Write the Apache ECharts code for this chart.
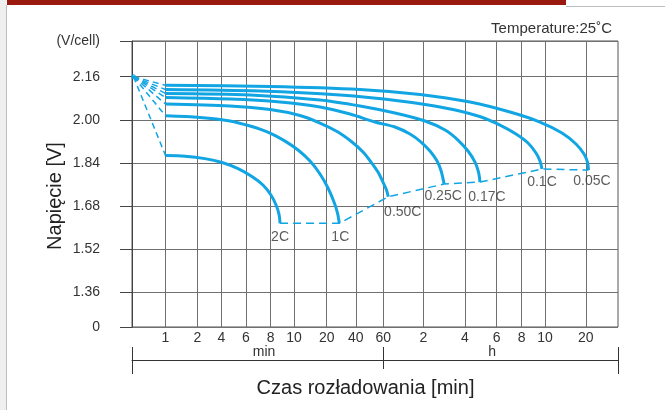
<!DOCTYPE html>
<html><head><meta charset="utf-8">
<script src="https://cdn.jsdelivr.net/npm/echarts@6/dist/echarts.min.js"></script>
<style>html,body{margin:0;padding:0;background:#fff;}#c{width:665px;height:410px;}</style>
</head><body><div id="c"></div>
<script>
// ===== DATA =====
const xTickMinutes = [1, 2, 4, 6, 8, 10, 20, 40, 60, 120, 240, 360, 480, 600, 1200];
const xTickLabels  = ['1','2','4','6','8','10','20','40','60','2','4','6','8','10','20'];
const xUnitLabels  = ['min', 'h'];
const yTickVolts   = [1.36, 1.52, 1.68, 1.84, 2.00, 2.16];
const yTickLabels  = ['1.36','1.52','1.68','1.84','2.00','2.16'];
const yBottomLabel = '0';
const yUnitLabel   = '(V/cell)';
const curveNames   = ['2C', '1C', '0.50C', '0.25C', '0.17C', '0.1C', '0.05C'];
const startPoint   = [0.5, 2.16];
// [minutes, volts per cell]
const curve2C   = [[1,1.8675],[1.525,1.865],[2.483,1.856],[4.033,1.8415],[5.26,1.819],[6.43,1.7895],[7.31,1.758],[8.02,1.721],[8.42,1.684],[8.66,1.650],[8.75,1.616]];
const curve1C   = [[1,2.015],[2.15,2.009],[4.6,1.996],[6.29,1.977],[7.94,1.951],[9.18,1.921],[10.9,1.888],[14.04,1.847],[17.35,1.799],[20.63,1.747],[23.8,1.695],[25.87,1.654],[27.0,1.616]];
const curve050C = [[1,2.0587],[4.6,2.0512],[7.94,2.038],[11.35,2.016],[17.35,1.988],[26.17,1.9547],[36.53,1.9176],[44.48,1.8805],[50.06,1.8433],[55.49,1.806],[59.7,1.769],[63.4,1.7394],[65.4,1.7145]];
const curve025C = [[1,2.0828],[4.6,2.0772],[8.74,2.0661],[17.35,2.0475],[34.85,2.0215],[53.1,1.9918],[73.4,1.9733],[95.3,1.9473],[115.4,1.9176],[134.1,1.8842],[150.9,1.847],[161.4,1.81],[169.6,1.7617]];
const curve017C = [[1,2.0976],[6.29,2.0921],[17.35,2.0735],[42.56,2.0512],[73.4,2.0252],[123.4,1.9955],[172.4,1.9621],[213.5,1.925],[249.4,1.8842],[272.7,1.8433],[285.3,1.8062],[290.7,1.7691]];
const curve01C  = [[1,2.1125],[7.06,2.1069],[27.46,2.0921],[80.1,2.0698],[172.4,2.0438],[283.4,2.0141],[373.9,1.9807],[449.5,1.9473],[509.9,1.9139],[550.5,1.8768],[571.9,1.847],[582.9,1.8174]];
const curve005C = [[1,2.1281],[7.94,2.1236],[42.56,2.1125],[113.3,2.0939],[255.8,2.0661],[419.5,2.029],[571.9,1.9918],[801,1.951],[1016,1.9102],[1164,1.873],[1235,1.8433],[1256,1.8136]];
const curves = [curve2C, curve1C, curve050C, curve025C, curve017C, curve01C, curve005C];

// ===== LAYOUT / STYLE =====
// the original drawing uses an irregular (hand-spaced) time scale: axis units along x for each tick
const X_STOPS = [33.5, 65.5, 89.5, 114, 138.7, 162, 194.7, 223.8, 251.3, 291.3, 333, 364.7, 389.7, 413, 453.8];
const X_MAX = 486;
const Y_MIN = 1.2312, Y_MAX = 2.2925;
const UNIT_LABEL_AT = [7.4, 340]; // minutes where "min" and "h" sit
const LABEL_OFFSETS = [[0,13.7],[1,13.7],[14.5,15.3],[-1,12],[7,14.3],[0,12.2],[3.4,10.5]];
const BLUE = '#12a5e3';
const GRID_C = '#707070';
const TXT = '#333';
const FONT = 'Liberation Sans, Arial, sans-serif';

function xPos(m) {
  const lt = xTickMinutes.map(Math.log);
  const L = Math.log(m);
  let i;
  if (L <= lt[0]) i = 0;
  else if (L >= lt[lt.length - 1]) i = lt.length - 2;
  else { i = 0; while (L > lt[i + 1]) i++; }
  return X_STOPS[i] + (L - lt[i]) / (lt[i + 1] - lt[i]) * (X_STOPS[i + 1] - X_STOPS[i]);
}
const toXY = p => [xPos(p[0]), p[1]];
function near(a, b) { return Math.abs(a - b) < 1e-3; }

const xTickPos = xTickMinutes.map(xPos);
const series = [];

curves.forEach((c, k) => {
  const pts = c.map(toXY);
  series.push({ type: 'line', name: curveNames[k], data: pts, smooth: 0.3, symbol: 'none',
    lineStyle: { color: BLUE, width: 3 }, z: 3, silent: true, animation: false });
  series.push({ type: 'line', data: [toXY(startPoint), pts[0]], symbol: 'none',
    lineStyle: { color: BLUE, width: 1.5, type: [6, 4] }, z: 2, silent: true, animation: false });
});
// end-of-discharge connector
const endPts = curves.map(c => toXY(c[c.length - 1]));
series.push({ type: 'line', data: endPts, symbol: 'none',
  lineStyle: { color: BLUE, width: 1.5, type: [8, 5] }, z: 2, silent: true, animation: false });
// curve labels at the end points
series.push({ type: 'scatter', symbol: 'circle', symbolSize: 1, itemStyle: { color: 'rgba(0,0,0,0)' },
  silent: true, animation: false, z: 5,
  data: endPts.map((p, k) => ({
    value: p,
    label: { show: true, formatter: curveNames[k], position: 'bottom', distance: 0,
      offset: [LABEL_OFFSETS[k][0], LABEL_OFFSETS[k][1] - 7], color: TXT, fontSize: 14, fontFamily: FONT }
  })) });
// origin marker
series.push({ type: 'scatter', data: [toXY(startPoint)], symbol: 'circle', symbolSize: 5,
  itemStyle: { color: BLUE }, z: 4, silent: true, animation: false });

const yCustom = [Y_MIN, ...yTickVolts, Y_MAX];
function yFmt(v) {
  if (near(v, Y_MIN)) return yBottomLabel;
  if (near(v, Y_MAX)) return yUnitLabel;
  const i = yTickVolts.findIndex(t => near(t, v));
  return i >= 0 ? yTickLabels[i] : '';
}
function xFmt(v) {
  const i = xTickPos.findIndex(t => Math.abs(t - v) < 0.01);
  return i >= 0 ? xTickLabels[i] : '';
}
const unitPos = UNIT_LABEL_AT.map(xPos);
const pos60 = xPos(60);

const baseX = { type: 'value', min: 0, max: X_MAX, gridIndex: 0, position: 'bottom', splitLine: { show: false } };

const option = {
  animation: false,
  backgroundColor: '#fff',
  grid: { left: 132, top: 41, width: X_MAX, height: 286, show: true, borderColor: '#555', borderWidth: 1, backgroundColor: 'transparent' },
  xAxis: [
    Object.assign({}, baseX, {
      axisLine: { show: false },
      axisTick: { show: false, customValues: xTickPos },
      axisLabel: { customValues: xTickPos, formatter: xFmt, margin: 4, color: TXT, fontSize: 14, fontFamily: FONT },
      splitLine: { show: true, lineStyle: { color: GRID_C, width: 1 } }
    }),
    Object.assign({}, baseX, {
      offset: 33,
      axisLine: { show: true, lineStyle: { color: '#333', width: 1 } },
      axisTick: { show: true, inside: true, length: 13, customValues: [0, pos60, X_MAX], lineStyle: { color: '#333' } },
      axisLabel: { show: true, inside: true, margin: 1, customValues: unitPos,
        formatter: v => (Math.abs(v - unitPos[0]) < 0.01 ? xUnitLabels[0] : xUnitLabels[1]),
        color: TXT, fontSize: 14, fontFamily: FONT }
    }),
    Object.assign({}, baseX, {
      offset: 33,
      axisLine: { show: false },
      axisTick: { show: true, inside: false, length: 14, customValues: [0, X_MAX], lineStyle: { color: '#333' } },
      axisLabel: { show: false }
    }),
    Object.assign({}, baseX, {
      offset: 33,
      axisLine: { show: false },
      axisTick: { show: true, inside: false, length: 9, customValues: [pos60], lineStyle: { color: '#333' } },
      axisLabel: { show: false }
    })
  ],
  yAxis: {
    type: 'value', min: Y_MIN, max: Y_MAX, offset: 12,
    axisLine: { show: true, lineStyle: { color: '#444', width: 1 } },
    axisTick: { show: true, inside: false, length: 12, customValues: yCustom, lineStyle: { color: '#444' } },
    axisLabel: { customValues: yCustom, formatter: yFmt, margin: 20, color: TXT, fontSize: 14, fontFamily: FONT },
    splitLine: { show: true, lineStyle: { color: GRID_C, width: 1 } }
  },
  graphic: [
    { type: 'rect', shape: { x: 0, y: 0, width: 6, height: 410 }, style: { fill: '#efefef' }, silent: true },
    { type: 'line', shape: { x1: 6.5, y1: 5, x2: 6.5, y2: 410 }, style: { stroke: '#bdbdbd', lineWidth: 1 }, silent: true },
    { type: 'line', shape: { x1: 566, y1: 6.5, x2: 665, y2: 6.5 }, style: { stroke: '#bdbdbd', lineWidth: 1 }, silent: true },
    { type: 'rect', shape: { x: 7, y: 0, width: 559, height: 5 }, style: { fill: '#9a1a0f' }, silent: true },
    { type: 'text', x: 612, y: 29, style: { text: 'Temperature:25˚C', font: '15px ' + FONT, fill: TXT, align: 'right', verticalAlign: 'middle' }, silent: true },
    { type: 'text', x: 365.5, y: 388, style: { text: 'Czas rozładowania [min]', font: '20px ' + FONT, fill: '#222', align: 'center', verticalAlign: 'middle' }, silent: true },
    { type: 'text', x: 55, y: 196, rotation: Math.PI / 2, style: { text: 'Napięcie [V]', font: '20px ' + FONT, fill: '#222', align: 'center', verticalAlign: 'middle' }, silent: true }
  ],
  series
};
const chart = echarts.init(document.getElementById('c'), null, { renderer: 'canvas' });
chart.setOption(option);
</script></body></html>
